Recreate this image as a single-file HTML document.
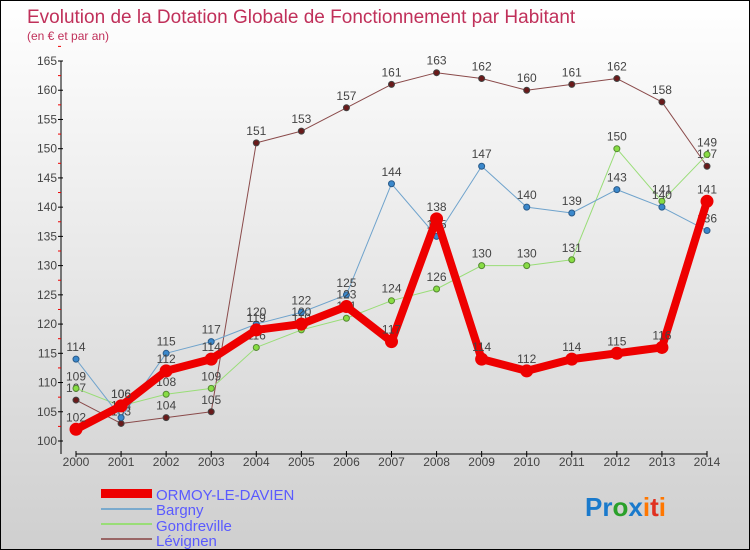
<!DOCTYPE html>
<html><head><meta charset="utf-8"><style>
body{margin:0}
#c{position:relative;width:750px;height:550px;overflow:hidden;background:linear-gradient(#ffffff,#cfcfcf);box-sizing:border-box;border:1px solid #000;font-family:"Liberation Sans",sans-serif}
text{font-family:"Liberation Sans",sans-serif}
</style></head><body>
<div id="c">
<svg id="s" width="750" height="550">
<text x="26" y="22" font-size="19" fill="#c0305a">Evolution de la Dotation Globale de Fonctionnement par Habitant</text>
<text x="26" y="39" font-size="12" fill="#c0305a">(en € et par an)</text>
<g id="axes"></g><g id="series"></g>
<g>
<rect x="100" y="488" width="51" height="9" fill="#ee0000"/>
<text x="155" y="499" font-size="15" fill="#5a5aff">ORMOY-LE-DAVIEN</text>
<rect x="100" y="507" width="51" height="2" fill="#7aaacd"/>
<text x="155" y="514" font-size="15" fill="#5a5aff">Bargny</text>
<rect x="100" y="522" width="51" height="2" fill="#99dd77"/>
<text x="155" y="530" font-size="15" fill="#5a5aff">Gondreville</text>
<rect x="100" y="537" width="51" height="2" fill="#996666"/>
<text x="155" y="545" font-size="15" fill="#5a5aff">Lévignen</text>
</g>
<g font-size="26" font-weight="bold">
<text x="584" y="515"><tspan fill="#1a7acc">Pr</tspan><tspan fill="#2aa02a">o</tspan><tspan fill="#1a7acc">x</tspan><tspan fill="#ff7700">i</tspan><tspan fill="#e03020">t</tspan><tspan fill="#ff7700">i</tspan></text>
</g>
</svg>
</div>
<script>
const years=[2000,2001,2002,2003,2004,2005,2006,2007,2008,2009,2010,2011,2012,2013,2014];
const yTicks=[100,105,110,115,120,125,130,135,140,145,150,155,160,165];
const ormoy=[102,106,112,114,119,120,123,117,138,114,112,114,115,116,141];
const bargny=[114,104,115,117,120,122,125,144,135,147,140,139,143,140,136];
const gondreville=[109,106,108,109,116,119,121,124,126,130,130,131,150,141,149];
const levignen=[107,103,104,105,151,153,157,161,163,162,160,161,162,158,147];
const NS="http://www.w3.org/2000/svg";
function X(i){return 75+i*(706-75)/(years.length-1);}
function Y(v){return 440-(v-100)*(380/65);}
function mk(t,a,p){const e=document.createElementNS(NS,t);for(const k in a)e.setAttribute(k,a[k]);p.appendChild(e);return e;}
const ax=document.getElementById('axes');
let l=mk('line',{x1:60,y1:Y(165),x2:60,y2:453,stroke:'#000'},ax);


l=mk('line',{x1:75,y1:453,x2:706,y2:453,stroke:'#000'},ax);


yTicks.forEach(v=>{
 mk('line',{x1:57,y1:Y(v),x2:62,y2:Y(v),stroke:'#000'},ax);
 mk('line',{x1:57,y1:Y(v+2.5),x2:60,y2:Y(v+2.5),stroke:'#e00'},ax);
 const t=mk('text',{x:56,y:Y(v)+4,'text-anchor':'end','font-size':12,fill:'#444'},ax);
 t.textContent=v;
 
 
});
years.forEach((y,i)=>{
 mk('line',{x1:X(i),y1:450,x2:X(i),y2:456,stroke:'#000'},ax);
 const t=mk('text',{x:X(i),y:465,'text-anchor':'middle','font-size':12,fill:'#444'},ax);
 t.textContent=y;
 
 
});
const sg=document.getElementById('series');
function series(name,vals,col,w,dot,dcol,r){
 const g=mk('g',{},sg);
 
 
 const p=mk('polyline',{points:vals.map((v,i)=>X(i)+','+Y(v)).join(' '),fill:'none',stroke:col,'stroke-width':w,'stroke-linejoin':'round'},g);
 
 
 vals.forEach((v,i)=>{
  const c=mk('circle',{cx:X(i),cy:Y(v),r:r,fill:dot,stroke:dcol,'stroke-width':1},g);
  
  
  const t=mk('text',{x:X(i),y:Y(v)-8,'text-anchor':'middle','font-size':12,fill:'#444'},g);
  t.textContent=v;
  
  
 });
}
series('levignen',levignen,'#8a4a4a',1,'#6a1a1a','#444',3);
series('gondreville',gondreville,'#99dd77',1,'#88dd44','#558833',3);
series('bargny',bargny,'#6fa3cc',1,'#3a88cc','#2a5a88',3);
series('ormoy',ormoy,'#ee0000',8,'#ee0000','#ee0000',6);
</script>
</body></html>
